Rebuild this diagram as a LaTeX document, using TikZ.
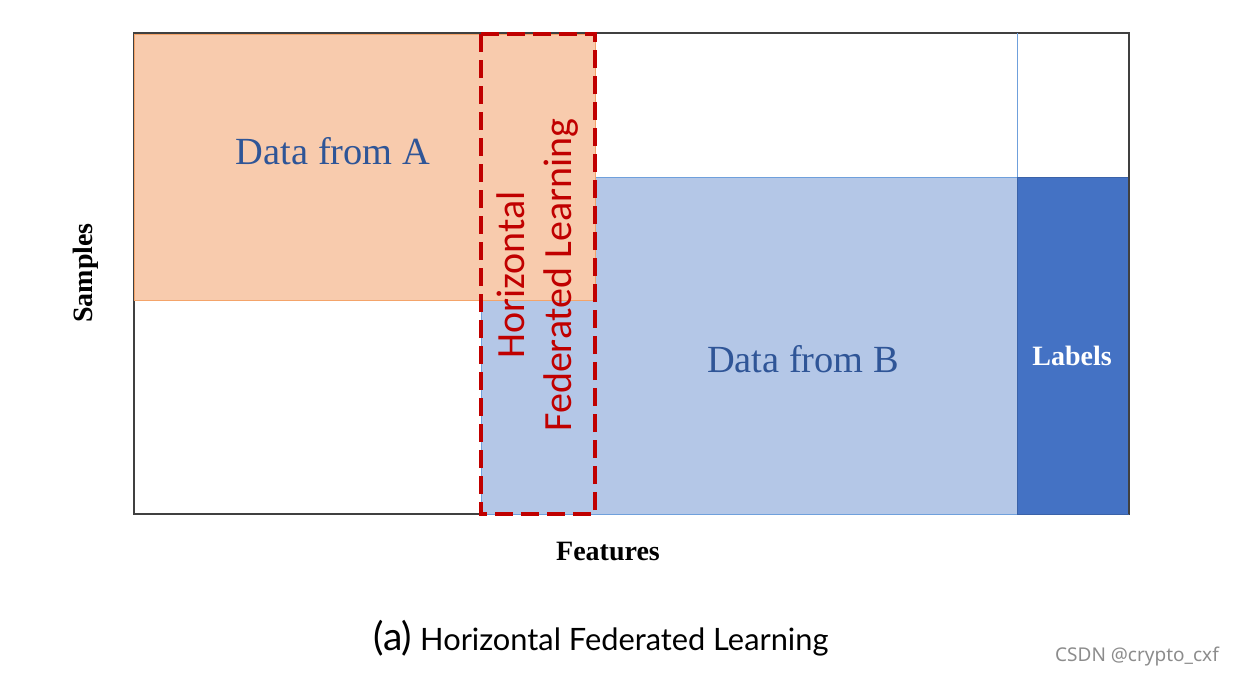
\documentclass[tikz,border=0pt]{standalone}
\usepackage{fontspec}
\setmainfont{Liberation Serif}
\newfontfamily\carl{Carlito}
\newfontfamily\capfont{Lato}
\newfontfamily\wmfont{Noto Sans}
\definecolor{orfill}{HTML}{F8CBAD}
\definecolor{ordraw}{HTML}{F4A46A}
\definecolor{lbfill}{HTML}{B4C7E7}
\definecolor{lbdraw}{HTML}{6FA0DC}
\definecolor{dbfill}{HTML}{4472C4}
\definecolor{dbdraw}{HTML}{3A62A8}
\definecolor{hred}{HTML}{C00000}
\definecolor{tblue}{HTML}{2F5597}
\definecolor{frame}{HTML}{404040}
\tikzset{
  framebox/.style={draw=frame, line width=0.7pt},
  orbox/.style={fill=orfill, draw=ordraw, line width=0.5pt},
  lbbox/.style={fill=lbfill, draw=lbdraw, line width=0.5pt},
  dbbox/.style={fill=dbfill, draw=dbdraw, line width=0.5pt},
  hflbox/.style={draw=hred, line width=2.2pt, dash pattern=on 9pt off 4pt},
  datatext/.style={text=tblue, font=\fontsize{19.2}{22}\selectfont, inner sep=0pt},
  axtext/.style={font=\fontsize{14}{16}\selectfont\bfseries, inner sep=0pt},
}
\begin{document}
\begin{tikzpicture}[x=0.5pt, y=-0.5pt]
\useasboundingbox (0,0) rectangle (1235,677);
\draw[framebox] (134,33) rectangle (1129,514);
\path[lbbox] (481,177) rectangle (1017,514);
\path[dbbox] (1017,177) rectangle (1128,514);
\path[orbox] (134,34) rectangle (595,300);
\draw[draw=lbdraw, line width=0.5pt] (1017,33) -- (1017,177);
\draw[framebox] (1129,33) -- (1129,514);
\draw[hflbox] (481,34) rectangle (595,514);
\node[datatext] (a) at (333,151) {Data from A};
\node[datatext] (b) at (803,359) {Data from B};
\node[text=hred, rotate=90, align=center, inner sep=0pt,
  font=\carl\fontsize{20}{23.5}\selectfont] (hfl) at (538,275) {Horizontal\\Federated Learning};
\node[axtext, rotate=90] (s) at (86,273) {Samples};
\node[axtext] (f) at (608,551) {Features};
\node[axtext, text=white] (l) at (1072,356) {Labels};
\node[inner sep=0pt, font=\capfont\fontsize{15.4}{18}\selectfont] (cap) at (601,638)
  {{\fontsize{19.5}{20}\selectfont (a)} Horizontal Federated Learning};
\node[inner sep=0pt, text=black!45, font=\wmfont\fontsize{9.5}{11}\selectfont] (wm) at (1137,656) {CSDN @crypto\_cxf};
\end{tikzpicture}
\end{document}
